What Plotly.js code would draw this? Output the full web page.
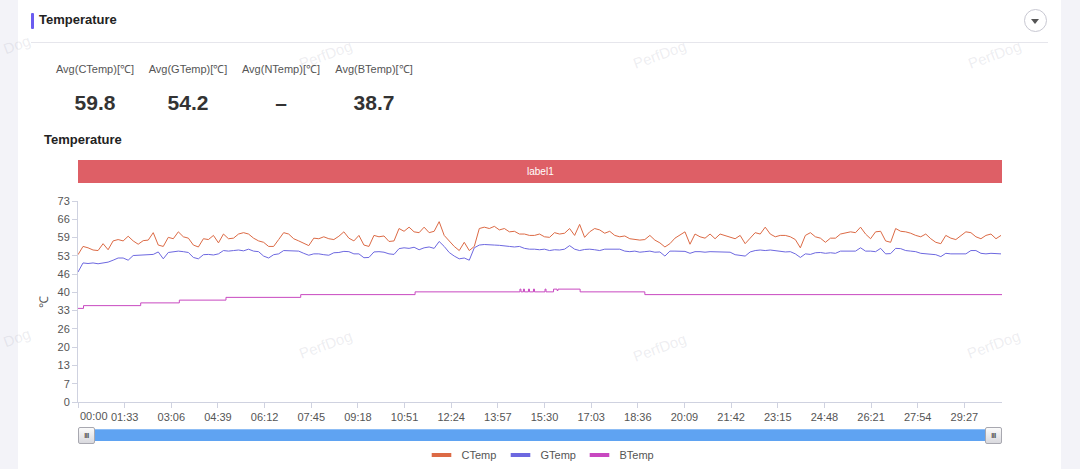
<!DOCTYPE html>
<html>
<head>
<meta charset="utf-8">
<script src="https://cdn.plot.ly/plotly-3.0.1.min.js"></script>
<style>
  body { margin:0; width:1080px; height:469px; overflow:hidden; background:#f3f3f8; font-family:"Liberation Sans", Arial, sans-serif; position:relative; }
  .card { position:absolute; left:18px; top:0; width:1043px; height:469px; background:#fff; }
  .bar { position:absolute; left:31px; top:13px; width:3px; height:16px; background:#6b5cf0; border-radius:1px; }
  .head { position:absolute; left:39px; top:11px; line-height:18px; font-size:13px; font-weight:bold; color:#222; }
  .rule { position:absolute; left:31px; top:42px; width:1017px; height:1px; background:#e6e6ec; }
  .toggle { position:absolute; left:1024px; top:9px; width:21px; height:21px; border:1px solid #c8c8d2; border-radius:50%; }
  .toggle:after { content:""; position:absolute; left:6px; top:9px; border-left:4.5px solid transparent; border-right:4.5px solid transparent; border-top:5px solid #555; }
  .stat { position:absolute; width:100px; text-align:center; }
  .stat .lbl { position:absolute; left:0; width:100px; top:62px; line-height:14px; font-size:11px; color:#555; }
  .stat .val { position:absolute; left:0; width:100px; top:90px; line-height:26px; font-size:21px; font-weight:bold; color:#333; }
  .sub { position:absolute; left:44px; top:132px; line-height:16px; font-size:13px; font-weight:bold; color:#222; }
  .slider { position:absolute; left:79px; top:429px; width:922px; height:12px; background:#5fa3f2; border-top:1px solid #8dbdf5; box-sizing:border-box; }
  .handle { position:absolute; top:427px; width:15px; height:15px; background:linear-gradient(#fbfbfb,#d9d9de); border:1px solid #a8a8b0; border-radius:2px; font-size:7px; line-height:15px; text-align:center; color:#555; letter-spacing:-0.5px; font-weight:bold; }
  .wm { position:absolute; font-size:15px; color:rgba(150,150,170,0.17); transform:rotate(-20deg); z-index:3; pointer-events:none; }
  #chart { position:absolute; left:0; top:0; width:1080px; height:469px; z-index:2; }
</style>
</head>
<body>
<div class="card"></div>
<div class="bar"></div>
<div class="head">Temperature</div>
<div class="rule"></div>
<div class="toggle"></div>
<div id="stats"></div>
<div class="sub">Temperature</div>
<div class="slider"></div>
<div class="handle" style="left:78px">III</div>
<div class="handle" style="left:985px">III</div>
<div id="marks"></div>
<div id="chart"></div>
<script>
// averages shown above the chart
var statNames = ["Avg(CTemp)[℃]", "Avg(GTemp)[℃]", "Avg(NTemp)[℃]", "Avg(BTemp)[℃]"];
var statValues = ["59.8", "54.2", "–", "38.7"];

// sampled every 10 s, from 00:00
var step = 10;
var cTemp = [
  53.5,56.5,56.0,55.2,55.0,57.5,55.3,58.5,59.0,58.5, 60.2,58.5,57.3,58.6,58.8,61.5,57.0,56.5,59.8,59.3,
  61.8,60.0,59.5,57.0,56.3,59.3,59.0,60.5,57.8,61.0, 59.3,59.5,61.0,61.5,61.0,59.5,58.5,58.0,56.5,56.5,
  59.0,61.5,61.0,59.3,58.5,57.5,56.8,
  59.5,59.3,60.0,59.3,59.0,60.2,61.8,59.5,58.5,60.5, 57.0,56.5,60.5,60.0,60.3,58.3,58.5,63.0,62.0,63.5,
  61.8,61.5,63.5,61.5,62.0,65.5,60.5,58.5,56.5,55.0, 58.0,55.0,56.5,63.0,63.5,63.0,63.8,62.5,63.0,61.8,
  62.0,61.0,61.0,60.5,60.5,61.0,60.0,
  59.8,61.5,61.0,61.3,63.0,60.5,64.5,59.8,61.8,63.0, 62.5,61.3,62.0,60.5,60.0,60.3,59.3,59.0,58.8,59.0,
  60.5,58.8,57.8,56.3,57.5,59.5,60.5,61.8,57.3,61.0, 60.0,59.5,61.0,59.3,61.0,60.5,59.8,59.3,60.5,57.5,
  59.5,61.5,61.0,63.5,61.0,60.0,
  60.5,60.5,60.0,59.0,56.0,60.5,61.5,60.0,59.5,58.0, 59.5,59.5,61.0,61.3,61.8,61.5,63.5,61.0,59.3,61.8,
  62.0,58.5,58.0,63.0,62.0,61.8,61.3,60.5,60.0,61.0, 59.3,58.0,57.5,60.5,59.5,59.0,60.5,61.8,61.5,60.0,
  59.3,60.5,61.0,59.3,60.5
];
var gTemp = [
  47.2,50.5,50.3,50.5,50.2,50.5,50.8,51.5,52.3,52.3, 51.5,53.2,53.3,53.4,53.5,53.6,54.5,52.0,54.3,54.5,
  54.8,54.6,54.3,52.5,52.0,53.5,53.6,53.4,53.8,55.0, 54.8,55.0,55.2,54.9,55.5,54.8,54.6,53.0,52.3,53.5,
  53.8,55.0,54.9,55.0,54.8,54.0,53.3,
  53.8,53.8,53.5,53.3,54.2,54.3,54.7,54.6,53.8,53.8, 52.4,52.5,54.5,54.6,54.4,53.8,53.6,55.7,56.0,55.8,
  56.2,55.3,56.0,56.3,55.8,58.3,56.5,54.3,53.0,52.0, 52.3,51.5,56.0,57.0,57.2,57.0,57.0,56.9,56.8,56.5,
  56.3,56.5,55.8,55.5,55.5,55.3,55.5,
  55.0,55.3,55.2,55.5,56.8,55.5,55.0,55.4,55.5,55.3, 55.0,55.5,55.5,55.4,55.5,54.8,54.6,54.8,54.4,54.6,
  54.8,54.4,54.5,53.0,54.8,54.8,54.7,54.7,54.0,54.6, 54.6,54.4,54.6,54.5,54.6,54.5,54.4,53.5,53.2,53.0,
  54.5,55.0,55.2,55.0,55.2,55.0,
  54.7,54.5,54.6,53.8,52.5,53.8,53.6,54.2,54.3,54.0, 54.2,54.0,54.8,54.8,55.0,54.8,56.0,54.8,54.8,54.6,
  55.8,53.8,53.9,55.8,55.7,55.0,54.8,54.6,54.0,53.8, 53.5,53.5,52.8,54.0,53.8,53.8,53.8,53.8,55.0,55.0,
  54.0,53.8,54.0,53.9,53.8
];
// battery temp only changes in steps: [second, value]
var bTime = [0, 11, 125, 202, 295, 444, 672, 881, 883, 888, 890, 898, 900, 908, 910, 931, 933, 948, 955, 957, 1001, 1130, 1842];
var bTemp = [34, 35, 36, 37, 38, 39, 40, 41, 40, 41, 40, 41, 40, 41, 40, 41, 40, 41, 40.5, 41, 40, 39, 39];

var xTickText = ["", "01:33", "03:06", "04:39", "06:12", "07:45", "09:18", "10:51", "12:24", "13:57",
  "15:30", "17:03", "18:36", "20:09", "21:42", "23:15", "24:48", "26:21", "27:54", "29:27"];
var yTickText = ["0", "7", "13", "20", "26", "33", "40", "46", "53", "59", "66", "73"];
var tickStep = 93, yMax = 73, xMax = 1842;

var seriesNames = ["CTemp", "GTemp", "BTemp"];
var seriesColors = ["#dc6a45", "#6d68e0", "#c848c0"];

// stats row
var statsHtml = "";
statNames.forEach(function(n, i) {
  var left = 45 + i * 93;
  statsHtml += '<div class="stat" style="left:' + left + 'px"><div class="lbl">' + n + '</div><div class="val">' + statValues[i] + '</div></div>';
});
document.getElementById("stats").innerHTML = statsHtml;

// watermarks (the ones at the left edge only show their tail)
var marks = [["Dog", 3, 36], ["PerfDog", 298, 46], ["PerfDog", 632, 46], ["PerfDog", 967, 46],
  ["Dog", 3, 329], ["PerfDog", 298, 336], ["PerfDog", 632, 339], ["PerfDog", 966, 336]];
var mh = "";
marks.forEach(function(m) { mh += '<div class="wm" style="left:' + m[1] + 'px;top:' + m[2] + 'px">' + m[0] + '</div>'; });
document.getElementById("marks").innerHTML = mh;

var times = cTemp.map(function(v, i) { return i * step; });

var traces = [
  {x: times, y: cTemp, mode: "lines", line: {color: seriesColors[0], width: 1}, showlegend: false},
  {x: times, y: gTemp, mode: "lines", line: {color: seriesColors[1], width: 1}, showlegend: false},
  {x: bTime, y: bTemp, mode: "lines", line: {color: seriesColors[2], width: 1, shape: "hv"}, showlegend: false}
];
// legend entries with short thick bars
seriesNames.forEach(function(n, i) {
  traces.push({x: [null], y: [null], mode: "markers", name: n, showlegend: true,
    marker: {symbol: "line-ew", size: 14, line: {color: seriesColors[i], width: 4}}});
});

var xTickVals = xTickText.map(function(t, i) { return i * tickStep; });
var yTickVals = yTickText.map(function(t, i) { return i * yMax / 11; });

var axisColor = "#cfd2e0";
var layout = {
  width: 1080, height: 469,
  margin: {l: 78, r: 78, t: 201, b: 67, autoexpand: false},
  paper_bgcolor: "rgba(0,0,0,0)",
  plot_bgcolor: "rgba(0,0,0,0)",
  font: {family: "Liberation Sans, Arial, sans-serif", size: 11, color: "#555"},
  showlegend: true,
  legend: {orientation: "h", x: 0.5, xanchor: "center", y: -0.264, yanchor: "middle",
    entrywidth: 34, entrywidthmode: "pixels", itemsizing: "trace", font: {size: 11, color: "#555"}},
  xaxis: {range: [0, xMax], showgrid: false, zeroline: false, showline: true, linecolor: axisColor,
    ticks: "outside", ticklen: 5, tickcolor: axisColor, tickvals: xTickVals, ticktext: xTickText,
    tickfont: {size: 11, color: "#555"}, fixedrange: true},
  yaxis: {range: [0, yMax], showgrid: false, zeroline: false, showline: true, linecolor: axisColor,
    ticks: "outside", ticklen: 5, tickcolor: axisColor, tickvals: yTickVals, ticktext: yTickText,
    tickfont: {size: 11, color: "#555"}, fixedrange: true,
    title: {text: "℃", font: {size: 12, color: "#555"}, standoff: 6}},
  shapes: [{type: "rect", xref: "paper", yref: "paper", x0: 0, x1: 1, y0: 1.0896, y1: 1.204,
    fillcolor: "#de5f66", line: {width: 0}}],
  annotations: [
    {text: "label1", xref: "paper", yref: "paper", x: 0.5, y: 1.147, yanchor: "middle", showarrow: false,
      font: {size: 10, color: "#fff"}},
    {text: "00:00", xref: "x", yref: "paper", x: 0, xanchor: "left", y: -0.07, yanchor: "middle",
      showarrow: false, font: {size: 11, color: "#555"}}
  ],
  hovermode: false
};

Plotly.newPlot("chart", traces, layout, {displayModeBar: false, staticPlot: true});
</script>
</body>
</html>
